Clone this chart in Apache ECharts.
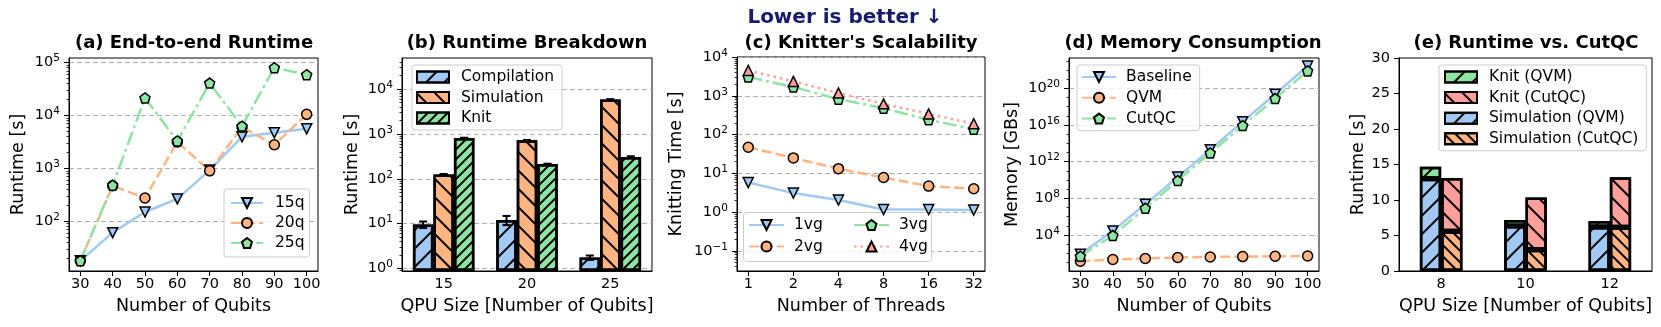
<!DOCTYPE html>
<html>
<head>
<meta charset="utf-8">
<script src="https://cdn.jsdelivr.net/npm/echarts@6/dist/echarts.min.js"></script>
<style>
html, body { margin: 0; padding: 0; background: #fff; }
#main { width: 1661px; height: 327px; }
</style>
</head>
<body>
<div id="main"></div>
<script>
// (a) end-to-end runtime [s]
var qubits = [30, 40, 50, 60, 70, 80, 90, 100];
var e2e15q = [18, 61, 150, 265, 930, 3960, 4700, 5600];
var e2e20q = [18, 470, 275, 3150, 900, 6000, 2800, 10500];
var e2e25q = [18, 480, 21500, 3300, 41000, 6300, 80000, 59000];

// (b) runtime breakdown [s]
var qpuSizes = ['15', '20', '25'];
var compileTime = [9.6, 12.1, 1.76];
var compileErr = [1.6, 2.8, 0.2];
var simTime = [125, 720, 5800];
var simErr = [3, 10, 150];
var knitTime = [810, 213, 306];
var knitErr = [12, 4, 12];

// (c) knitting time vs threads [s]
var threads = [1, 2, 4, 8, 16, 32];
var knit1vg = [5.8, 3.1, 2.05, 1.17, 1.17, 1.13];
var knit2vg = [47, 25, 13.2, 7.8, 4.7, 4.0];
var knit3vg = [3050, 1680, 820, 480, 240, 138];
var knit4vg = [4500, 2350, 1180, 620, 340, 190];

// (d) memory [GBs]
var memBaseline = [80, 2.8e4, 2.2e7, 2.1e10, 2.0e13, 2.3e16, 2.2e19, 2.7e22];
var memQvm = [13.5, 21, 27, 35, 40, 44, 48, 51];
var memCutqc = [48, 8700, 8.1e6, 8.5e9, 8.7e12, 8.5e15, 7.6e18, 7.8e21];

// (e) runtime vs CutQC [s]
var cutqcSizes = ['8', '10', '12'];
var simQvm = [13.0, 6.35, 6.2];
var knitQvm = [1.7, 0.85, 0.85];
var simCutqc = [5.6, 3.0, 6.15];
var knitCutqc = [7.5, 7.35, 7.05];

// tick values
var majorA = [100, 1000, 10000, 100000];
var majorB = [1, 10, 100, 1000, 10000];
var majorC = [0.1, 1, 10, 100, 1000, 10000];
var majorD = [1e4, 1e8, 1e12, 1e16, 1e20];

var FONT = 'DejaVu Sans';
var BLUE = '#a1c9f4', ORANGE = '#ffb482', GREEN = '#8de5a1', RED = '#ff9f9b';
var PENTAGON = 'path://M0,-1L0.951,-0.309L0.588,0.809L-0.588,0.809L-0.951,-0.309Z';

function minorTicks(min, max) {
    var out = [];
    for (var e = Math.floor(Math.log10(min)); e <= Math.ceil(Math.log10(max)); e++) {
        for (var m = 2; m < 10; m++) {
            var v = m * Math.pow(10, e);
            if (v >= min && v <= max) out.push(v);
        }
    }
    return out;
}
function decadeTicks(min, max, skip) {
    var out = [];
    for (var e = Math.ceil(Math.log10(min)); e <= Math.floor(Math.log10(max)); e++) {
        if (e % skip !== 0) out.push(Math.pow(10, e));
    }
    return out;
}

function powLabel(v) {
    var e = Math.round(Math.log10(v));
    return '{b|10}{s|' + (e < 0 ? '\u2212' + (-e) : e) + '}';
}
var powRich = {
    b: { fontSize: 14.5, fontFamily: FONT, color: '#000' },
    s: { fontSize: 10.5, fontFamily: FONT, color: '#000', padding: [0, 0, 8, 0] }
};
var gridLine = { show: true, lineStyle: { color: '#b0b0b0', type: [5, 3], width: 1 } };
var axisLine = { show: true, onZero: false, lineStyle: { color: '#000', width: 1 } };
var nameStyle = { fontSize: 17.5, fontFamily: FONT, color: '#000' };
var tickFont = { fontSize: 14.5, fontFamily: FONT, color: '#000' };

function yLog(gi, min, max, majors, name, gap) {
    return {
        type: 'log', gridIndex: gi, min: min, max: max, position: 'left',
        name: name, nameLocation: 'middle', nameGap: gap, nameTextStyle: nameStyle,
        axisLine: axisLine,
        axisTick: { show: true, length: 5, customValues: majors, lineStyle: { color: '#000' } },
        axisLabel: { customValues: majors, formatter: powLabel, rich: powRich, margin: 9 },
        splitLine: gridLine
    };
}
function yMinor(gi, min, max, ticks) {
    return {
        type: 'log', gridIndex: gi, min: min, max: max, position: 'left',
        axisLine: { show: false }, axisLabel: { show: false }, splitLine: { show: false },
        axisTick: { show: true, length: 2.5, customValues: ticks, lineStyle: { color: '#000', width: 0.8 } }
    };
}
function xVal(gi, min, max, ticks, name) {
    return {
        type: 'value', gridIndex: gi, min: min, max: max,
        name: name, nameLocation: 'middle', nameGap: 26, nameTextStyle: nameStyle,
        axisLine: axisLine,
        axisTick: { show: true, length: 5, customValues: ticks, lineStyle: { color: '#000' } },
        axisLabel: Object.assign({ customValues: ticks, margin: 6 }, tickFont),
        splitLine: { show: false }
    };
}
function xCat(gi, cats, name) {
    return {
        type: 'category', gridIndex: gi, data: cats,
        name: name, nameLocation: 'middle', nameGap: 26, nameTextStyle: nameStyle,
        axisLine: axisLine, axisTick: { alignWithLabel: true, length: 5, lineStyle: { color: '#000' } },
        axisLabel: Object.assign({ margin: 6 }, tickFont), splitLine: { show: false }
    };
}

function line(name, gi, xs, ys, color, symbol, rot, dash) {
    return {
        name: name, type: 'line', xAxisIndex: gi, yAxisIndex: gi,
        data: xs.map(function (x, i) { return [x, ys[i]]; }),
        symbol: symbol, symbolSize: 10, symbolRotate: rot,
        lineStyle: { color: color, width: 2.5, type: dash },
        itemStyle: { color: color, borderColor: '#000', borderWidth: 1.5 },
        emphasis: { disabled: true }, z: 3
    };
}
function hatch(dir, gap) {
    return { symbol: 'rect', symbolSize: 1, dashArrayX: [1, 0], dashArrayY: [2, gap],
             rotation: dir * Math.PI / 4, color: '#000' };
}
function bar(name, gi, data, color, decal, width, stack) {
    return {
        name: name, type: 'bar', xAxisIndex: gi, yAxisIndex: gi, data: data, stack: stack,
        barWidth: width, barGap: '0%',
        itemStyle: { color: color, borderColor: '#000', borderWidth: 2.5, decal: decal },
        emphasis: { disabled: true }
    };
}
function errBars(gi, vals, errs, offset) {
    return {
        type: 'custom', xAxisIndex: gi, yAxisIndex: gi, z: 5,
        encode: { x: 0, y: [1, 2] },
        data: vals.map(function (v, i) { return [i, v - errs[i], v + errs[i]]; }),
        renderItem: function (params, api) {
            var lo = api.coord([api.value(0), api.value(1)]);
            var hi = api.coord([api.value(0), api.value(2)]);
            var cx = lo[0] + offset;
            var st = { stroke: '#000', lineWidth: 2 };
            return { type: 'group', children: [
                { type: 'line', shape: { x1: cx, y1: lo[1], x2: cx, y2: hi[1] }, style: st },
                { type: 'line', shape: { x1: cx - 4, y1: lo[1], x2: cx + 4, y2: lo[1] }, style: st },
                { type: 'line', shape: { x1: cx - 4, y1: hi[1], x2: cx + 4, y2: hi[1] }, style: st }
            ] };
        }
    };
}
function legend(data, left, top, opts) {
    return Object.assign({
        data: data, left: left, top: top, orient: 'vertical', selectedMode: false,
        backgroundColor: 'rgba(255,255,255,0.8)', borderColor: '#cccccc', borderWidth: 1, borderRadius: 3,
        itemGap: 4, itemWidth: 32, itemHeight: 12.5, z: 6,
        textStyle: { fontSize: 15.5, fontFamily: FONT, color: '#000', padding: [0, 0, 0, 7] }
    }, opts);
}
function title(text, x, y, color, size) {
    return { type: 'text', x: x, y: y, z: 10,
             style: { text: text, fill: color || '#000', fontSize: size || 18, fontWeight: 'bold',
                      fontFamily: FONT, align: 'center', verticalAlign: 'middle' } };
}

var grids = [
    { left: 69, top: 58, width: 249, height: 213 },
    { left: 402, top: 58, width: 250, height: 213 },
    { left: 737, top: 57, width: 248, height: 214 },
    { left: 1069, top: 58, width: 250, height: 213 },
    { left: 1399, top: 58, width: 253, height: 213 }
].map(function (g) { return Object.assign({ show: true, borderColor: '#000', borderWidth: 1 }, g); });

var ext = { a: [11.5, 122000], b: [0.885, 49000], c: [0.0304, 10000], d: [1.18, 2e23] };
var BW = 20.5;
var lineLegendText = { fontSize: 15.5, fontFamily: FONT, color: '#000', padding: [0, 0, 0, 5] };

var option = {
    animation: false,
    textStyle: { fontFamily: FONT },
    grid: grids,
    xAxis: [
        xVal(0, 26.5, 103.5, qubits, 'Number of Qubits'),
        xCat(1, qpuSizes, 'QPU Size [Number of Qubits]'),
        {
            type: 'log', logBase: 2, gridIndex: 2, min: 0.8409, max: 38.05,
            name: 'Number of Threads', nameLocation: 'middle', nameGap: 26, nameTextStyle: nameStyle,
            axisLine: axisLine,
            axisTick: { show: true, length: 5, customValues: threads, lineStyle: { color: '#000' } },
            axisLabel: Object.assign({ customValues: threads, margin: 6,
                formatter: function (v) { return String(Math.round(v)); } }, tickFont),
            splitLine: { show: false }
        },
        xVal(3, 26.5, 103.5, qubits, 'Number of Qubits'),
        xCat(4, cutqcSizes, 'QPU Size [Number of Qubits]')
    ],
    yAxis: [
        yLog(0, ext.a[0], ext.a[1], majorA, 'Runtime [s]', 42),
        Object.assign(yLog(1, ext.b[0], ext.b[1], majorB, 'Runtime [s]', 41), { startValue: ext.b[0] }),
        yLog(2, ext.c[0], ext.c[1], majorC, 'Knitting Time [s]', 52),
        yLog(3, ext.d[0], ext.d[1], majorD, 'Memory [GBs]', 48),
        {
            type: 'value', gridIndex: 4, min: 0, max: 30, interval: 5,
            name: 'Runtime [s]', nameLocation: 'middle', nameGap: 31, nameTextStyle: nameStyle,
            axisLine: axisLine, axisTick: { show: true, length: 5, lineStyle: { color: '#000' } },
            axisLabel: Object.assign({ margin: 9 }, tickFont), splitLine: { show: false }
        },
        yMinor(0, ext.a[0], ext.a[1], minorTicks(ext.a[0], ext.a[1])),
        yMinor(1, ext.b[0], ext.b[1], minorTicks(ext.b[0], ext.b[1])),
        yMinor(2, ext.c[0], ext.c[1], minorTicks(ext.c[0], ext.c[1])),
        yMinor(3, ext.d[0], ext.d[1], decadeTicks(ext.d[0], ext.d[1], 4))
    ],
    legend: [
        legend(['15q', '20q', '25q'], 224, 189, { padding: [6, 5, 6, 6] }),
        legend(['Compilation', 'Simulation', 'Knit'], 412, 65, { padding: [4, 8, 4, 4], itemHeight: 11, itemGap: 4.5, icon: 'rect' }),
        legend(['1vg', '2vg'], 748, 217, { padding: 0, backgroundColor: 'transparent', borderWidth: 0, itemWidth: 35, itemGap: 5.6,
            textStyle: lineLegendText }),
        legend(['3vg', '4vg'], 853, 217, { padding: 0, backgroundColor: 'transparent', borderWidth: 0, itemWidth: 35, itemGap: 5.6,
            textStyle: lineLegendText }),
        legend(['Baseline', 'QVM', 'CutQC'], 1077, 65, { padding: [4, 8, 4, 4], itemWidth: 34, itemGap: 4.8,
            textStyle: lineLegendText }),
        legend(['Knit (QVM)', 'Knit (CutQC)', 'Simulation (QVM)', 'Simulation (CutQC)'], 1439, 65,
            { padding: [4, 8, 4, 5], itemHeight: 11, itemGap: 4.6, icon: 'rect' })
    ],
    graphic: [
        title('Lower is better \u2193', 845, 17.5, '#191970', 20),
        title('(a) End-to-end Runtime', 194, 43.5),
        title('(b) Runtime Breakdown', 527, 43.5),
        title("(c) Knitter's Scalability", 861, 43.5),
        title('(d) Memory Consumption', 1193, 43.5),
        title('(e) Runtime vs. CutQC', 1526, 43.5),
        { type: 'rect', z: 3, shape: { x: 743.5, y: 212.5, width: 188, height: 49, r: 3 },
          style: { fill: 'rgba(255,255,255,0.8)', stroke: '#cccccc', lineWidth: 1 } }
    ],
    series: [
        line('15q', 0, qubits, e2e15q, BLUE, 'triangle', 180, 'solid'),
        line('20q', 0, qubits, e2e20q, ORANGE, 'circle', 0, [10, 4]),
        line('25q', 0, qubits, e2e25q, GREEN, PENTAGON, 0, [14, 4, 3, 4]),

        bar('Compilation', 1, compileTime, BLUE, hatch(-1, 11), BW),
        bar('Simulation', 1, simTime, ORANGE, hatch(1, 11), BW),
        bar('Knit', 1, knitTime, GREEN, hatch(-1, 5), BW),
        errBars(1, compileTime, compileErr, -BW),
        errBars(1, simTime, simErr, 0),
        errBars(1, knitTime, knitErr, BW),

        line('1vg', 2, threads, knit1vg, BLUE, 'triangle', 180, 'solid'),
        line('2vg', 2, threads, knit2vg, ORANGE, 'circle', 0, [10, 4]),
        line('3vg', 2, threads, knit3vg, GREEN, PENTAGON, 0, [14, 4, 3, 4]),
        line('4vg', 2, threads, knit4vg, RED, 'triangle', 0, [2.5, 4]),

        line('Baseline', 3, qubits, memBaseline, BLUE, 'triangle', 180, 'solid'),
        line('QVM', 3, qubits, memQvm, ORANGE, 'circle', 0, [10, 4]),
        line('CutQC', 3, qubits, memCutqc, GREEN, PENTAGON, 0, [14, 4, 3, 4]),

        bar('Simulation (QVM)', 4, simQvm, BLUE, hatch(-1, 11), 21.3, 'qvm'),
        bar('Simulation (CutQC)', 4, simCutqc, ORANGE, hatch(1, 6), 21.3, 'cutqc'),
        bar('Knit (QVM)', 4, knitQvm, GREEN, hatch(-1, 11), 21.3, 'qvm'),
        bar('Knit (CutQC)', 4, knitCutqc, RED, hatch(1, 11), 21.3, 'cutqc')
    ]
};

var chart = echarts.init(document.getElementById('main'), null, { renderer: 'canvas' });
chart.setOption(option);
</script>
</body>
</html>
